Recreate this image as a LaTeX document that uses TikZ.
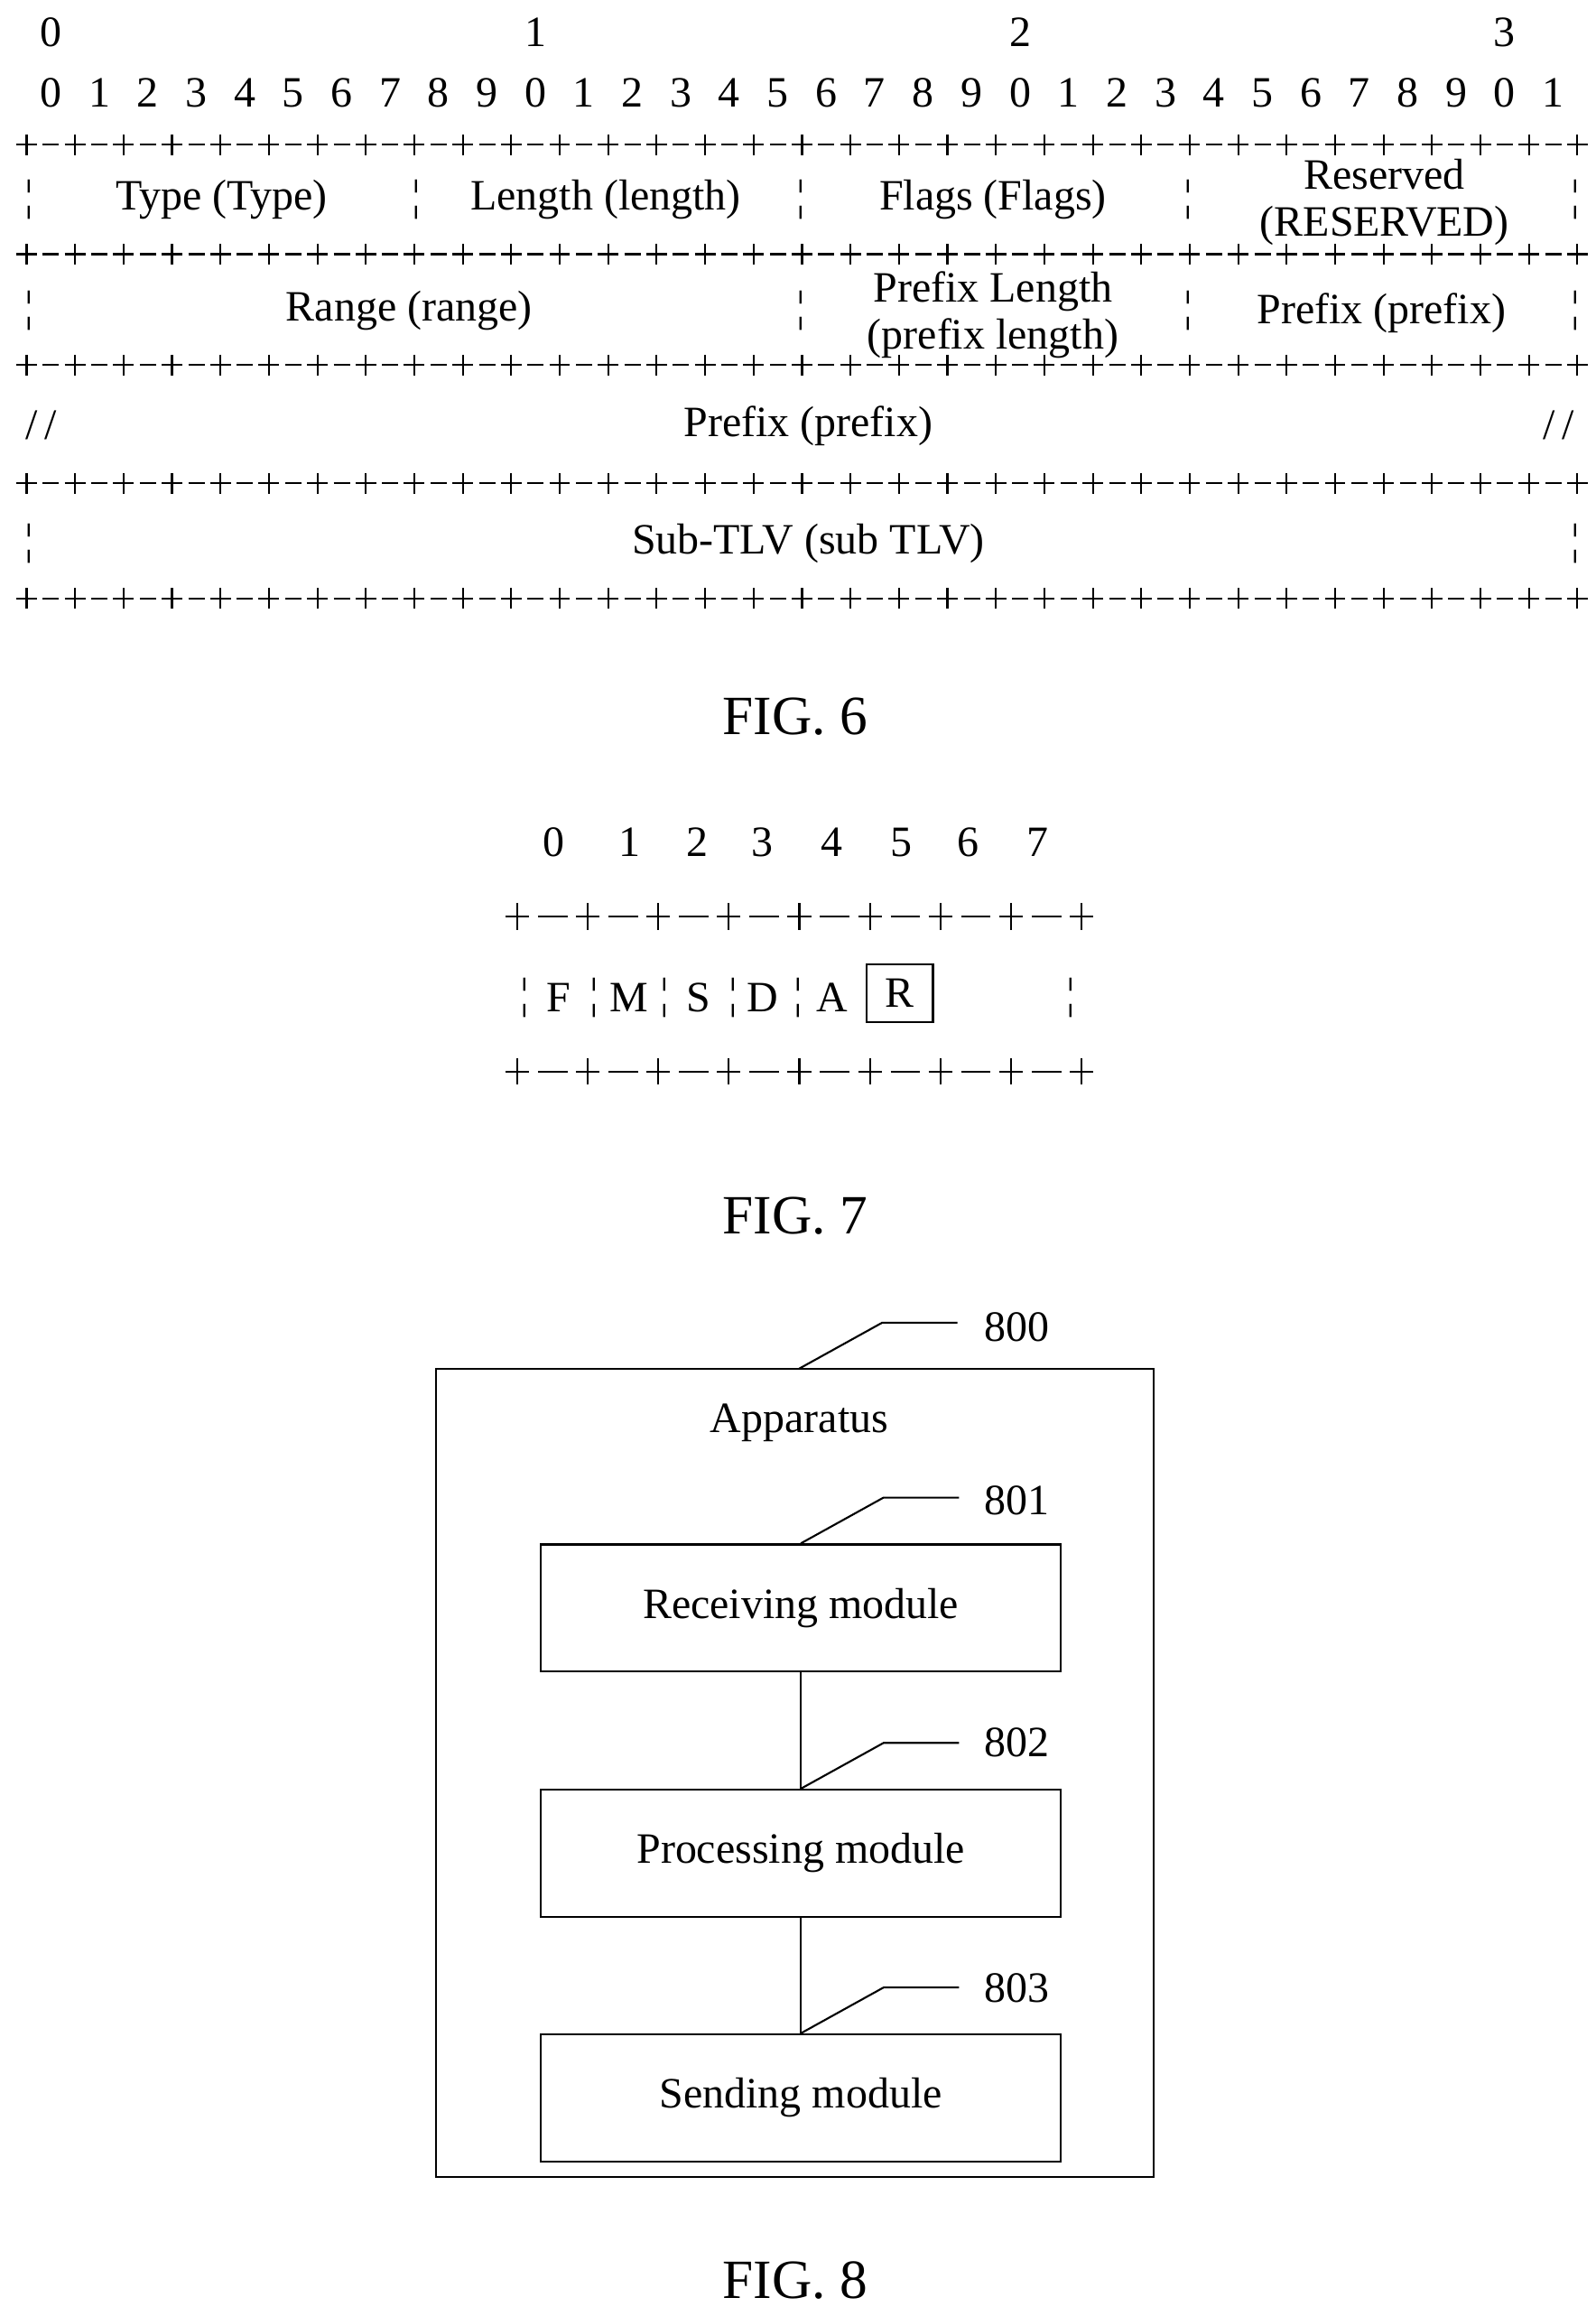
\documentclass[tikz,border=0pt]{standalone}
\usepackage{fontspec}
\setmainfont{Liberation Serif}
\begin{document}
\begin{tikzpicture}[x=0.03cm,y=-0.03cm,
  t/.style={font=\fontsize{25}{27}\selectfont,inner sep=0pt,align=center},
  fig/.style={font=\fontsize{32}{34}\selectfont,inner sep=0pt},
  box/.style={draw,line width=1.2pt,minimum width=352*0.03cm,minimum height=86*0.03cm,font=\fontsize{25}{27}\selectfont},
  ln/.style={line width=1.1pt}]
\useasboundingbox (0,0) rectangle (1080,1561);
% FIG 6
\foreach \i/\d in {0/0,10/1,20/2,30/3} \node[t] (td\i) at (34.4+32.8*\i,22) {\d};
\foreach \i in {0,...,31}{\pgfmathtruncatemacro\d{mod(\i,10)}\node[t] (bd\i) at (34.4+32.8*\i,63) {\d};}
\foreach \y in {98,172,247,327,405}{
  \foreach \i in {0,...,32}{\draw[ln] (18+32.8*\i-7,\y)--(18+32.8*\i+7,\y) (18+32.8*\i,\y-7)--(18+32.8*\i,\y+7);}
  \foreach \i in {0,...,31}{\draw[ln] (18+32.8*\i+11,\y)--(18+32.8*\i+22,\y);}
}
\foreach \x/\y in {20/135,282/135,542/135,804/135,1066/135,20/210,542/210,804/210,1066/210,20/368,1066/368}
  \node[t] at (\x,\y) {¦};
\node[t] (type) at (150,135) {Type (Type)};
\node[t] (len) at (410,135) {Length (length)};
\node[t] (flags) at (672,135) {Flags (Flags)};
\node[t] (res) at (937,137) {Reserved\\(RESERVED)};
\node[t] (range) at (277,210) {Range (range)};
\node[t] (plen) at (672,213) {Prefix Length\\(prefix length)};
\node[t] (pfx1) at (935,212) {Prefix (prefix)};
\node[t] (sl1) at (28,288) {/\,/};
\node[t] (sl2) at (1055,288) {/\,/};
\node[t] (pfx2) at (547,288) {Prefix (prefix)};
\node[t] (sub) at (547,368) {Sub-TLV (sub TLV)};
\node[fig] (f6) at (538,485) {FIG. 6};
% FIG 7
\foreach \i/\x in {0/375,1/426,2/472,3/516,4/563,5/610,6/655,7/702} \node[t] (sd\i) at (\x,570) {\i};
\foreach \y in {620,725}{
  \foreach \i in {0,...,8}{\draw[ln] (350+47.75*\i-8,\y)--(350+47.75*\i+8,\y) (350+47.75*\i,\y-9)--(350+47.75*\i,\y+9);}
  \foreach \i in {0,...,7}{\draw[ln] (350+47.75*\i+14,\y)--(350+47.75*\i+34,\y);}
}
\foreach \x in {355,402,450,496,540,725} \node[t] at (\x,675) {¦};
\foreach \l/\x in {F/378,M/426,S/473,D/516,A/563} \node[t] (b\l) at (\x,675) {\l};
\node[t,draw,line width=1.2pt,minimum width=45*0.03cm,minimum height=39*0.03cm] (bR) at (609,672) {R};
\node[fig] (f7) at (538,823) {FIG. 7};
% FIG 8
\node[draw,line width=1.2pt,minimum width=486*0.03cm,minimum height=547*0.03cm,inner sep=0pt] (app) at (538,1199.5) {};
\node[t] (appt) at (541,963) {Apparatus};
\node[box] (rx) at (542,1088) {Receiving module};
\node[box] (pr) at (542,1254) {Processing module};
\node[box] (tx) at (542,1419.5) {Sending module};
\draw[ln] (rx.south)--(pr.north);
\draw[ln] (pr.south)--(tx.north);
\coordinate (c800) at (541,926);
\draw[ln] (c800)--(597,895)--(648,895);
\node[t] (l800) at (688,898) {800};
\foreach \n/\y/\c in {801/1015/rx,802/1179/pr,803/1345/tx}{
  \draw[ln] (\c.north)--++(56,-31)--++(51,0);
  \node[t] at (688,\y) {\n};
}
\node[fig] (f8) at (538,1543) {FIG. 8};
\end{tikzpicture}
\end{document}
